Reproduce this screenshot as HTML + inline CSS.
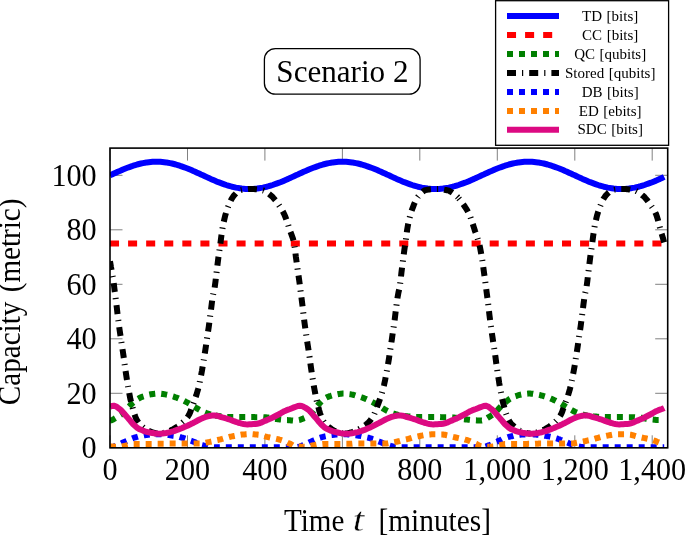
<!DOCTYPE html>
<html><head><meta charset="utf-8"><title>Scenario 2</title>
<style>
html,body{margin:0;padding:0;background:#fff;}
body{width:685px;height:536px;overflow:hidden;font-family:"Liberation Serif",serif;}
svg{display:block;font-family:"Liberation Serif",serif;will-change:transform;}
</style></head><body>
<svg width="685" height="536" viewBox="0 0 685 536">
<rect width="685" height="536" fill="#fff"/>
<g stroke="#737373" stroke-width="0.9" fill="none"><line x1="110.0" y1="447.8" x2="110.0" y2="435.3"/><line x1="110.0" y1="148.1" x2="110.0" y2="160.6"/><line x1="187.5" y1="447.8" x2="187.5" y2="435.3"/><line x1="187.5" y1="148.1" x2="187.5" y2="160.6"/><line x1="264.9" y1="447.8" x2="264.9" y2="435.3"/><line x1="264.9" y1="148.1" x2="264.9" y2="160.6"/><line x1="342.4" y1="447.8" x2="342.4" y2="435.3"/><line x1="342.4" y1="148.1" x2="342.4" y2="160.6"/><line x1="419.8" y1="447.8" x2="419.8" y2="435.3"/><line x1="419.8" y1="148.1" x2="419.8" y2="160.6"/><line x1="497.3" y1="447.8" x2="497.3" y2="435.3"/><line x1="497.3" y1="148.1" x2="497.3" y2="160.6"/><line x1="574.8" y1="447.8" x2="574.8" y2="435.3"/><line x1="574.8" y1="148.1" x2="574.8" y2="160.6"/><line x1="652.2" y1="447.8" x2="652.2" y2="435.3"/><line x1="652.2" y1="148.1" x2="652.2" y2="160.6"/><line x1="110.0" y1="447.8" x2="122.5" y2="447.8"/><line x1="667.7" y1="447.8" x2="655.2" y2="447.8"/><line x1="110.0" y1="393.3" x2="122.5" y2="393.3"/><line x1="667.7" y1="393.3" x2="655.2" y2="393.3"/><line x1="110.0" y1="338.8" x2="122.5" y2="338.8"/><line x1="667.7" y1="338.8" x2="655.2" y2="338.8"/><line x1="110.0" y1="284.3" x2="122.5" y2="284.3"/><line x1="667.7" y1="284.3" x2="655.2" y2="284.3"/><line x1="110.0" y1="229.8" x2="122.5" y2="229.8"/><line x1="667.7" y1="229.8" x2="655.2" y2="229.8"/><line x1="110.0" y1="175.3" x2="122.5" y2="175.3"/><line x1="667.7" y1="175.3" x2="655.2" y2="175.3"/></g>
<clipPath id="c"><rect x="110.0" y="148.1" width="557.7" height="299.7"/></clipPath>
<g clip-path="url(#c)" fill="none" stroke-width="6" stroke-linejoin="round"><path d="M110.0 175.3 L111.9 174.5 L113.9 173.6 L115.8 172.7 L117.7 171.8 L119.7 171.0 L121.6 170.1 L123.6 169.3 L125.5 168.5 L127.4 167.8 L129.4 167.1 L131.3 166.4 L133.2 165.7 L135.2 165.1 L137.1 164.5 L139.0 164.0 L141.0 163.5 L142.9 163.1 L144.9 162.8 L146.8 162.4 L148.7 162.2 L150.7 162.0 L152.6 161.8 L154.5 161.8 L156.5 161.7 L158.4 161.8 L160.3 161.8 L162.3 162.0 L164.2 162.2 L166.2 162.4 L168.1 162.8 L170.0 163.1 L172.0 163.5 L173.9 164.0 L175.8 164.5 L177.8 165.1 L179.7 165.7 L181.6 166.4 L183.6 167.1 L185.5 167.8 L187.5 168.5 L189.4 169.3 L191.3 170.1 L193.3 171.0 L195.2 171.8 L197.1 172.7 L199.1 173.6 L201.0 174.5 L202.9 175.3 L204.9 176.2 L206.8 177.1 L208.8 178.0 L210.7 178.9 L212.6 179.7 L214.6 180.6 L216.5 181.4 L218.4 182.2 L220.4 182.9 L222.3 183.6 L224.3 184.3 L226.2 185.0 L228.1 185.6 L230.1 186.2 L232.0 186.7 L233.9 187.1 L235.9 187.6 L237.8 187.9 L239.7 188.2 L241.7 188.5 L243.6 188.7 L245.6 188.9 L247.5 188.9 L249.4 189.0 L251.4 188.9 L253.3 188.9 L255.2 188.7 L257.2 188.5 L259.1 188.2 L261.0 187.9 L263.0 187.6 L264.9 187.1 L266.9 186.7 L268.8 186.2 L270.7 185.6 L272.7 185.0 L274.6 184.3 L276.5 183.6 L278.5 182.9 L280.4 182.2 L282.3 181.4 L284.3 180.6 L286.2 179.7 L288.2 178.9 L290.1 178.0 L292.0 177.1 L294.0 176.2 L295.9 175.3 L297.8 174.5 L299.8 173.6 L301.7 172.7 L303.6 171.8 L305.6 171.0 L307.5 170.1 L309.5 169.3 L311.4 168.5 L313.3 167.8 L315.3 167.1 L317.2 166.4 L319.1 165.7 L321.1 165.1 L323.0 164.5 L324.9 164.0 L326.9 163.5 L328.8 163.1 L330.8 162.8 L332.7 162.4 L334.6 162.2 L336.6 162.0 L338.5 161.8 L340.4 161.8 L342.4 161.7 L344.3 161.8 L346.2 161.8 L348.2 162.0 L350.1 162.2 L352.1 162.4 L354.0 162.8 L355.9 163.1 L357.9 163.5 L359.8 164.0 L361.7 164.5 L363.7 165.1 L365.6 165.7 L367.5 166.4 L369.5 167.1 L371.4 167.8 L373.4 168.5 L375.3 169.3 L377.2 170.1 L379.2 171.0 L381.1 171.8 L383.0 172.7 L385.0 173.6 L386.9 174.5 L388.9 175.3 L390.8 176.2 L392.7 177.1 L394.7 178.0 L396.6 178.9 L398.5 179.7 L400.5 180.6 L402.4 181.4 L404.3 182.2 L406.3 182.9 L408.2 183.6 L410.2 184.3 L412.1 185.0 L414.0 185.6 L416.0 186.2 L417.9 186.7 L419.8 187.1 L421.8 187.6 L423.7 187.9 L425.6 188.2 L427.6 188.5 L429.5 188.7 L431.5 188.9 L433.4 188.9 L435.3 189.0 L437.3 188.9 L439.2 188.9 L441.1 188.7 L443.1 188.5 L445.0 188.2 L446.9 187.9 L448.9 187.6 L450.8 187.1 L452.8 186.7 L454.7 186.2 L456.6 185.6 L458.6 185.0 L460.5 184.3 L462.4 183.6 L464.4 182.9 L466.3 182.2 L468.2 181.4 L470.2 180.6 L472.1 179.7 L474.1 178.9 L476.0 178.0 L477.9 177.1 L479.9 176.2 L481.8 175.3 L483.7 174.5 L485.7 173.6 L487.6 172.7 L489.5 171.8 L491.5 171.0 L493.4 170.1 L495.4 169.3 L497.3 168.5 L499.2 167.8 L501.2 167.1 L503.1 166.4 L505.0 165.7 L507.0 165.1 L508.9 164.5 L510.8 164.0 L512.8 163.5 L514.7 163.1 L516.7 162.8 L518.6 162.4 L520.5 162.2 L522.5 162.0 L524.4 161.8 L526.3 161.8 L528.3 161.7 L530.2 161.8 L532.1 161.8 L534.1 162.0 L536.0 162.2 L538.0 162.4 L539.9 162.8 L541.8 163.1 L543.8 163.5 L545.7 164.0 L547.6 164.5 L549.6 165.1 L551.5 165.7 L553.4 166.4 L555.4 167.1 L557.3 167.8 L559.3 168.5 L561.2 169.3 L563.1 170.1 L565.1 171.0 L567.0 171.8 L568.9 172.7 L570.9 173.6 L572.8 174.5 L574.8 175.3 L576.7 176.2 L578.6 177.1 L580.6 178.0 L582.5 178.9 L584.4 179.7 L586.4 180.6 L588.3 181.4 L590.2 182.2 L592.2 182.9 L594.1 183.6 L596.1 184.3 L598.0 185.0 L599.9 185.6 L601.9 186.2 L603.8 186.7 L605.7 187.1 L607.7 187.6 L609.6 187.9 L611.5 188.2 L613.5 188.5 L615.4 188.7 L617.4 188.9 L619.3 188.9 L621.2 189.0 L623.2 188.9 L625.1 188.9 L627.0 188.7 L629.0 188.5 L630.9 188.2 L632.8 187.9 L634.8 187.6 L636.7 187.1 L638.7 186.7 L640.6 186.2 L642.5 185.6 L644.5 185.0 L646.4 184.3 L648.3 183.6 L650.3 182.9 L652.2 182.2 L654.1 181.4 L656.1 180.6 L658.0 179.7 L660.0 178.9 L661.9 178.0 L663.8 177.1 L664.2 176.9" stroke="#0000ff"/><path d="M110.0 243.5 L111.9 243.5 L113.9 243.5 L115.8 243.5 L117.7 243.5 L119.7 243.5 L121.6 243.5 L123.6 243.5 L125.5 243.5 L127.4 243.5 L129.4 243.5 L131.3 243.5 L133.2 243.5 L135.2 243.5 L137.1 243.5 L139.0 243.5 L141.0 243.5 L142.9 243.5 L144.9 243.5 L146.8 243.5 L148.7 243.5 L150.7 243.5 L152.6 243.5 L154.5 243.5 L156.5 243.5 L158.4 243.5 L160.3 243.5 L162.3 243.5 L164.2 243.5 L166.2 243.5 L168.1 243.5 L170.0 243.5 L172.0 243.5 L173.9 243.5 L175.8 243.5 L177.8 243.5 L179.7 243.5 L181.6 243.5 L183.6 243.5 L185.5 243.5 L187.5 243.5 L189.4 243.5 L191.3 243.5 L193.3 243.5 L195.2 243.5 L197.1 243.5 L199.1 243.5 L201.0 243.5 L202.9 243.5 L204.9 243.5 L206.8 243.5 L208.8 243.5 L210.7 243.5 L212.6 243.5 L214.6 243.5 L216.5 243.5 L218.4 243.5 L220.4 243.5 L222.3 243.5 L224.3 243.5 L226.2 243.5 L228.1 243.5 L230.1 243.5 L232.0 243.5 L233.9 243.5 L235.9 243.5 L237.8 243.5 L239.7 243.5 L241.7 243.5 L243.6 243.5 L245.6 243.5 L247.5 243.5 L249.4 243.5 L251.4 243.5 L253.3 243.5 L255.2 243.5 L257.2 243.5 L259.1 243.5 L261.0 243.5 L263.0 243.5 L264.9 243.5 L266.9 243.5 L268.8 243.5 L270.7 243.5 L272.7 243.5 L274.6 243.5 L276.5 243.5 L278.5 243.5 L280.4 243.5 L282.3 243.5 L284.3 243.5 L286.2 243.5 L288.2 243.5 L290.1 243.5 L292.0 243.5 L294.0 243.5 L295.9 243.5 L297.8 243.5 L299.8 243.5 L301.7 243.5 L303.6 243.5 L305.6 243.5 L307.5 243.5 L309.5 243.5 L311.4 243.5 L313.3 243.5 L315.3 243.5 L317.2 243.5 L319.1 243.5 L321.1 243.5 L323.0 243.5 L324.9 243.5 L326.9 243.5 L328.8 243.5 L330.8 243.5 L332.7 243.5 L334.6 243.5 L336.6 243.5 L338.5 243.5 L340.4 243.5 L342.4 243.5 L344.3 243.5 L346.2 243.5 L348.2 243.5 L350.1 243.5 L352.1 243.5 L354.0 243.5 L355.9 243.5 L357.9 243.5 L359.8 243.5 L361.7 243.5 L363.7 243.5 L365.6 243.5 L367.5 243.5 L369.5 243.5 L371.4 243.5 L373.4 243.5 L375.3 243.5 L377.2 243.5 L379.2 243.5 L381.1 243.5 L383.0 243.5 L385.0 243.5 L386.9 243.5 L388.9 243.5 L390.8 243.5 L392.7 243.5 L394.7 243.5 L396.6 243.5 L398.5 243.5 L400.5 243.5 L402.4 243.5 L404.3 243.5 L406.3 243.5 L408.2 243.5 L410.2 243.5 L412.1 243.5 L414.0 243.5 L416.0 243.5 L417.9 243.5 L419.8 243.5 L421.8 243.5 L423.7 243.5 L425.6 243.5 L427.6 243.5 L429.5 243.5 L431.5 243.5 L433.4 243.5 L435.3 243.5 L437.3 243.5 L439.2 243.5 L441.1 243.5 L443.1 243.5 L445.0 243.5 L446.9 243.5 L448.9 243.5 L450.8 243.5 L452.8 243.5 L454.7 243.5 L456.6 243.5 L458.6 243.5 L460.5 243.5 L462.4 243.5 L464.4 243.5 L466.3 243.5 L468.2 243.5 L470.2 243.5 L472.1 243.5 L474.1 243.5 L476.0 243.5 L477.9 243.5 L479.9 243.5 L481.8 243.5 L483.7 243.5 L485.7 243.5 L487.6 243.5 L489.5 243.5 L491.5 243.5 L493.4 243.5 L495.4 243.5 L497.3 243.5 L499.2 243.5 L501.2 243.5 L503.1 243.5 L505.0 243.5 L507.0 243.5 L508.9 243.5 L510.8 243.5 L512.8 243.5 L514.7 243.5 L516.7 243.5 L518.6 243.5 L520.5 243.5 L522.5 243.5 L524.4 243.5 L526.3 243.5 L528.3 243.5 L530.2 243.5 L532.1 243.5 L534.1 243.5 L536.0 243.5 L538.0 243.5 L539.9 243.5 L541.8 243.5 L543.8 243.5 L545.7 243.5 L547.6 243.5 L549.6 243.5 L551.5 243.5 L553.4 243.5 L555.4 243.5 L557.3 243.5 L559.3 243.5 L561.2 243.5 L563.1 243.5 L565.1 243.5 L567.0 243.5 L568.9 243.5 L570.9 243.5 L572.8 243.5 L574.8 243.5 L576.7 243.5 L578.6 243.5 L580.6 243.5 L582.5 243.5 L584.4 243.5 L586.4 243.5 L588.3 243.5 L590.2 243.5 L592.2 243.5 L594.1 243.5 L596.1 243.5 L598.0 243.5 L599.9 243.5 L601.9 243.5 L603.8 243.5 L605.7 243.5 L607.7 243.5 L609.6 243.5 L611.5 243.5 L613.5 243.5 L615.4 243.5 L617.4 243.5 L619.3 243.5 L621.2 243.5 L623.2 243.5 L625.1 243.5 L627.0 243.5 L629.0 243.5 L630.9 243.5 L632.8 243.5 L634.8 243.5 L636.7 243.5 L638.7 243.5 L640.6 243.5 L642.5 243.5 L644.5 243.5 L646.4 243.5 L648.3 243.5 L650.3 243.5 L652.2 243.5 L654.1 243.5 L656.1 243.5 L658.0 243.5 L660.0 243.5 L661.9 243.5 L663.8 243.5 L664.2 243.5" stroke="#ff0000" stroke-dasharray="9.04 9.04"/><path d="M110.0 420.6 L111.0 420.4 L111.9 420.1 L112.9 419.6 L113.9 419.0 L114.8 418.4 L115.8 417.8 L116.8 417.3 L117.7 416.7 L118.7 416.1 L119.7 415.4 L120.7 414.8 L121.6 414.0 L122.6 413.2 L123.6 412.3 L124.5 411.3 L125.5 410.3 L126.5 409.2 L127.4 408.1 L128.4 407.1 L129.4 406.1 L130.3 405.2 L131.3 404.3 L132.3 403.5 L133.2 402.6 L134.2 401.8 L135.2 401.0 L136.1 400.2 L137.1 399.5 L138.1 398.8 L139.0 398.3 L140.0 397.8 L141.0 397.3 L142.0 396.9 L142.9 396.5 L143.9 396.2 L144.9 395.8 L145.8 395.5 L146.8 395.2 L147.8 394.9 L148.7 394.7 L149.7 394.5 L150.7 394.3 L151.6 394.2 L152.6 394.0 L153.6 393.9 L154.5 393.8 L155.5 393.7 L156.5 393.6 L157.4 393.6 L158.4 393.6 L159.4 393.7 L160.3 393.7 L161.3 393.8 L162.3 394.0 L163.3 394.1 L164.2 394.2 L165.2 394.4 L166.2 394.6 L167.1 394.8 L168.1 395.0 L169.1 395.3 L170.0 395.6 L171.0 395.8 L172.0 396.1 L172.9 396.4 L173.9 396.7 L174.9 397.1 L175.8 397.4 L176.8 397.7 L177.8 398.1 L178.7 398.5 L179.7 398.9 L180.7 399.3 L181.6 399.7 L182.6 400.2 L183.6 400.6 L184.6 401.1 L185.5 401.6 L186.5 402.1 L187.5 402.6 L188.4 403.1 L189.4 403.7 L190.4 404.3 L191.3 404.9 L192.3 405.6 L193.3 406.2 L194.2 406.8 L195.2 407.4 L196.2 407.9 L197.1 408.5 L198.1 409.0 L199.1 409.6 L200.0 410.1 L201.0 410.7 L202.0 411.2 L202.9 411.7 L203.9 412.1 L204.9 412.5 L205.9 412.9 L206.8 413.2 L207.8 413.5 L208.8 413.8 L209.7 414.1 L210.7 414.4 L211.7 414.7 L212.6 414.9 L213.6 415.1 L214.6 415.3" stroke="#007f00" stroke-dasharray="6 6" stroke-dashoffset="0.0"/><path d="M214.6 415.3 L215.5 415.5 L216.5 415.7 L217.5 415.8 L218.4 415.9 L219.4 416.1 L220.4 416.2 L221.3 416.3 L222.3 416.4 L223.3 416.5 L224.3 416.6 L225.2 416.7 L226.2 416.8 L227.2 416.9 L228.1 416.9 L229.1 417.0 L230.1 417.0 L231.0 417.0 L232.0 417.1 L233.0 417.1 L233.9 417.1 L234.9 417.1 L235.9 417.1 L236.8 417.1 L237.8 417.1 L238.8 417.1 L239.7 417.1 L240.7 417.1 L241.7 417.1 L242.6 417.1 L243.6 417.1 L244.6 417.1 L245.6 417.1 L246.5 417.1 L247.5 417.1 L248.5 417.1 L249.4 417.1 L250.4 417.1 L251.4 417.1 L252.3 417.1 L253.3 417.1 L254.3 417.1 L255.2 417.2 L256.2 417.2 L257.2 417.2 L258.1 417.2 L259.1 417.2 L260.1 417.2 L261.0 417.2 L262.0 417.2 L263.0 417.2 L263.9 417.3 L264.9 417.3 L265.9 417.3 L266.9 417.4 L267.8 417.5 L268.8 417.7 L269.8 417.8 L270.7 418.0 L271.7 418.2 L272.7 418.4 L273.6 418.6 L274.6 418.8 L275.6 418.9 L276.5 419.1 L277.5 419.2 L278.5 419.3 L279.4 419.4 L280.4 419.5 L281.4 419.6 L282.3 419.7 L283.3 419.8 L284.3 419.9 L285.2 420.0 L286.2 420.1 L287.2 420.1 L288.2 420.2 L289.1 420.3 L290.1 420.3 L291.1 420.4 L292.0 420.4 L293.0 420.5 L294.0 420.5 L294.9 420.5 L295.9 420.6 L296.9 420.5 L297.8 420.4 L298.8 420.1 L299.8 419.9 L300.7 419.5 L301.7 419.2 L302.7 418.8 L303.6 418.3 L304.6 417.9 L305.6 417.5 L306.6 416.9 L307.5 416.4 L308.5 415.7 L309.5 415.0 L310.4 414.2 L311.4 413.3 L312.4 412.2 L313.3 411.0 L314.3 409.7 L315.3 408.4 L316.2 407.1 L317.2 405.9 L318.2 404.8 L319.1 403.8 L320.1 402.8 L321.1 401.7 L322.0 400.8 L323.0 399.9 L324.0 399.0 L324.9 398.3 L325.9 397.8 L326.9 397.3 L327.9 396.9 L328.8 396.5 L329.8 396.1 L330.8 395.8 L331.7 395.5 L332.7 395.2 L333.7 394.9 L334.6 394.7 L335.6 394.5 L336.6 394.3 L337.5 394.2 L338.5 394.0 L339.5 393.9 L340.4 393.8 L341.4 393.7 L342.4 393.6 L343.3 393.6 L344.3 393.6 L345.3 393.7 L346.2 393.7 L347.2 393.8 L348.2 394.0 L349.2 394.1 L350.1 394.2 L351.1 394.4 L352.1 394.6 L353.0 394.8 L354.0 395.0 L355.0 395.3 L355.9 395.6 L356.9 395.8 L357.9 396.1 L358.8 396.4 L359.8 396.7 L360.8 397.1 L361.7 397.4 L362.7 397.7 L363.7 398.1 L364.6 398.5 L365.6 398.9 L366.6 399.3 L367.5 399.7 L368.5 400.2 L369.5 400.6 L370.5 401.1 L371.4 401.6 L372.4 402.1 L373.4 402.6 L374.3 403.1 L375.3 403.7 L376.3 404.3 L377.2 404.9 L378.2 405.6 L379.2 406.2 L380.1 406.8 L381.1 407.4 L382.1 407.9 L383.0 408.5 L384.0 409.0 L385.0 409.6 L385.9 410.1 L386.9 410.7 L387.9 411.2 L388.9 411.7 L389.8 412.1 L390.8 412.5 L391.8 412.9 L392.7 413.2 L393.7 413.5 L394.7 413.8 L395.6 414.1 L396.6 414.4 L397.6 414.7 L398.5 414.9 L399.5 415.1 L400.5 415.3" stroke="#007f00" stroke-dasharray="6 6" stroke-dashoffset="11.23"/><path d="M400.5 415.3 L401.4 415.5 L402.4 415.7 L403.4 415.8 L404.3 415.9 L405.3 416.1 L406.3 416.2 L407.2 416.3 L408.2 416.4 L409.2 416.5 L410.2 416.6 L411.1 416.7 L412.1 416.8 L413.1 416.9 L414.0 416.9 L415.0 417.0 L416.0 417.0 L416.9 417.0 L417.9 417.1 L418.9 417.1 L419.8 417.1 L420.8 417.1 L421.8 417.1 L422.7 417.1 L423.7 417.1 L424.7 417.1 L425.6 417.1 L426.6 417.1 L427.6 417.1 L428.5 417.1 L429.5 417.1 L430.5 417.1 L431.5 417.1 L432.4 417.1 L433.4 417.1 L434.4 417.1 L435.3 417.1 L436.3 417.1 L437.3 417.1 L438.2 417.1 L439.2 417.1 L440.2 417.1 L441.1 417.2 L442.1 417.2 L443.1 417.2 L444.0 417.2 L445.0 417.2 L446.0 417.2 L446.9 417.2 L447.9 417.2 L448.9 417.2 L449.8 417.3 L450.8 417.3 L451.8 417.3 L452.8 417.4 L453.7 417.5 L454.7 417.7 L455.7 417.8 L456.6 418.0 L457.6 418.2 L458.6 418.4 L459.5 418.6 L460.5 418.8 L461.5 418.9 L462.4 419.1 L463.4 419.2 L464.4 419.3 L465.3 419.4 L466.3 419.5 L467.3 419.6 L468.2 419.7 L469.2 419.8 L470.2 419.9 L471.1 420.0 L472.1 420.1 L473.1 420.1 L474.1 420.2 L475.0 420.3 L476.0 420.3 L477.0 420.4 L477.9 420.4 L478.9 420.5 L479.9 420.5 L480.8 420.5 L481.8 420.6 L482.8 420.4 L483.7 420.1 L484.7 419.6 L485.7 419.0 L486.6 418.4 L487.6 417.8 L488.6 417.3 L489.5 416.7 L490.5 416.1 L491.5 415.4 L492.5 414.8 L493.4 414.0 L494.4 413.2 L495.4 412.3 L496.3 411.3 L497.3 410.3 L498.3 409.2 L499.2 408.1 L500.2 407.1 L501.2 406.1 L502.1 405.2 L503.1 404.3 L504.1 403.5 L505.0 402.6 L506.0 401.8 L507.0 401.0 L507.9 400.2 L508.9 399.5 L509.9 398.8 L510.8 398.3 L511.8 397.8 L512.8 397.3 L513.8 396.9 L514.7 396.5 L515.7 396.2 L516.7 395.8 L517.6 395.5 L518.6 395.2 L519.6 394.9 L520.5 394.7 L521.5 394.5 L522.5 394.3 L523.4 394.2 L524.4 394.0 L525.4 393.9 L526.3 393.8 L527.3 393.7 L528.3 393.6 L529.2 393.6 L530.2 393.6 L531.2 393.7 L532.1 393.7 L533.1 393.8 L534.1 394.0 L535.1 394.1 L536.0 394.2 L537.0 394.4 L538.0 394.6 L538.9 394.8 L539.9 395.0 L540.9 395.3 L541.8 395.6 L542.8 395.8 L543.8 396.1 L544.7 396.4 L545.7 396.7 L546.7 397.1 L547.6 397.4 L548.6 397.7 L549.6 398.1 L550.5 398.5 L551.5 398.9 L552.5 399.3 L553.4 399.7 L554.4 400.2 L555.4 400.6 L556.4 401.1 L557.3 401.6 L558.3 402.1 L559.3 402.6 L560.2 403.1 L561.2 403.7 L562.2 404.3 L563.1 404.9 L564.1 405.6 L565.1 406.2 L566.0 406.8 L567.0 407.4 L568.0 407.9 L568.9 408.5 L569.9 409.0 L570.9 409.6 L571.8 410.1 L572.8 410.7 L573.8 411.2 L574.8 411.7 L575.7 412.1 L576.7 412.5 L577.7 412.9 L578.6 413.2 L579.6 413.5 L580.6 413.8 L581.5 414.1 L582.5 414.4 L583.5 414.7 L584.4 414.9 L585.4 415.1 L586.4 415.3" stroke="#007f00" stroke-dasharray="6 6" stroke-dashoffset="8.21"/><path d="M586.4 415.3 L587.3 415.5 L588.3 415.7 L589.3 415.8 L590.2 415.9 L591.2 416.1 L592.2 416.2 L593.1 416.3 L594.1 416.4 L595.1 416.5 L596.1 416.6 L597.0 416.7 L598.0 416.8 L599.0 416.9 L599.9 416.9 L600.9 417.0 L601.9 417.0 L602.8 417.0 L603.8 417.1 L604.8 417.1 L605.7 417.1 L606.7 417.1 L607.7 417.1 L608.6 417.1 L609.6 417.1 L610.6 417.1 L611.5 417.1 L612.5 417.1 L613.5 417.1 L614.4 417.1 L615.4 417.1 L616.4 417.1 L617.4 417.1 L618.3 417.1 L619.3 417.1 L620.3 417.1 L621.2 417.1 L622.2 417.1 L623.2 417.1 L624.1 417.1 L625.1 417.1 L626.1 417.1 L627.0 417.2 L628.0 417.2 L629.0 417.2 L629.9 417.2 L630.9 417.2 L631.9 417.2 L632.8 417.2 L633.8 417.2 L634.8 417.2 L635.7 417.3 L636.7 417.3 L637.7 417.3 L638.7 417.4 L639.6 417.5 L640.6 417.7 L641.6 417.8 L642.5 418.0 L643.5 418.2 L644.5 418.4 L645.4 418.6 L646.4 418.8 L647.4 418.9 L648.3 419.1 L649.3 419.2 L650.3 419.3 L651.2 419.4 L652.2 419.5 L653.2 419.6 L654.1 419.7 L655.1 419.8 L656.1 419.9 L657.0 420.0 L658.0 420.1 L659.0 420.1 L660.0 420.2 L660.9 420.3 L661.9 420.3 L662.9 420.4 L663.8 420.4 L664.2 420.5" stroke="#007f00" stroke-dasharray="6 6" stroke-dashoffset="5.39"/><path d="M110.0 261.2 L111.0 267.3 L111.9 272.0 L112.9 277.5 L113.9 284.4 L114.8 291.9 L115.8 299.5 L116.8 307.5 L117.7 315.5 L118.7 323.3 L119.7 330.7 L120.7 337.3 L121.6 343.6 L122.6 349.9 L123.6 356.5 L124.5 363.5 L125.5 370.5 L126.5 377.0 L127.4 382.9 L128.4 388.6 L129.4 393.9 L130.3 398.7 L131.3 402.8 L132.3 406.6 L133.2 410.1 L134.2 413.4 L135.2 416.3 L136.1 418.7 L137.1 420.6 L138.1 422.0 L139.0 423.3 L140.0 424.4 L141.0 425.3 L142.0 426.2 L142.9 427.0 L143.9 427.8 L144.9 428.5 L145.8 429.3 L146.8 429.9 L147.8 430.5 L148.7 430.9 L149.7 431.3 L150.7 431.7 L151.6 432.0 L152.6 432.4 L153.6 432.7 L154.5 433.0 L155.5 433.2 L156.5 433.4 L157.4 433.6 L158.4 433.6 L158.8 433.6" stroke="#000000" stroke-dasharray="9 6 1.2 6" stroke-dashoffset="0.0"/><path d="M158.8 433.6 L159.4 433.6 L160.3 433.5 L161.3 433.4 L162.3 433.2 L163.3 433.0 L164.2 432.7 L165.2 432.4 L166.2 432.1 L167.1 431.8 L168.1 431.5 L169.1 431.1 L170.0 430.7 L171.0 430.3 L172.0 429.8 L172.9 429.3 L173.9 428.7 L174.9 428.2 L175.8 427.6 L176.8 427.0 L177.8 426.4 L178.7 425.7 L179.7 424.9 L180.7 424.2 L181.6 423.4 L182.6 422.5 L183.6 421.7 L184.6 420.7 L185.5 419.7 L186.5 418.5 L187.5 417.3 L188.4 415.8 L189.4 414.0 L190.4 411.7 L191.3 409.1 L192.3 406.4 L193.3 403.8 L194.2 401.2 L195.2 398.5 L196.2 395.6 L197.1 392.5 L198.1 389.1 L199.1 385.2 L200.0 380.7 L201.0 375.8 L202.0 370.5 L202.9 365.0 L203.9 359.1 L204.9 352.7 L205.9 346.3 L206.8 339.8 L207.8 333.3 L208.8 326.6 L209.7 319.7 L210.7 312.0 L211.7 304.2 L212.6 297.2 L213.6 292.3 L214.6 288.1 L215.5 281.3 L216.5 272.9 L217.5 264.7 L218.4 257.4 L219.4 250.3 L220.4 243.5 L221.3 236.4 L222.3 229.5 L223.3 223.8 L224.3 219.5 L225.2 215.6 L226.2 212.3 L227.2 209.4 L228.1 206.8 L229.1 204.4 L230.1 202.1 L231.0 200.1 L232.0 198.3 L233.0 196.8 L233.9 195.6 L234.9 194.5 L235.9 193.5 L236.8 192.5 L237.8 191.7 L238.8 191.0 L239.7 190.4 L240.7 190.1 L241.7 189.9 L242.6 189.7 L243.6 189.6 L244.6 189.4 L245.6 189.3 L246.5 189.2 L247.5 189.1 L248.5 189.0 L249.4 189.0 L250.4 189.0 L251.4 189.0 L252.3 189.0 L253.3 189.0 L254.3 189.1 L255.2 189.2 L256.2 189.3 L257.2 189.4 L258.1 189.5 L259.1 189.7 L260.1 189.9 L261.0 190.0 L262.0 190.2 L263.0 190.4 L263.9 190.7 L264.9 191.2 L265.9 191.7 L266.9 192.3 L267.8 193.0 L268.8 193.8 L269.8 194.6 L270.7 195.4 L271.7 196.2 L272.7 197.1 L273.6 198.2 L274.6 199.3 L275.6 200.5 L276.5 201.8 L277.5 203.1 L278.5 204.5 L279.4 205.9 L280.4 207.4 L281.4 208.9 L282.3 210.5 L283.3 212.3 L284.3 214.3 L285.2 216.5 L286.2 219.1 L287.2 222.0 L288.2 225.0 L289.1 228.1 L290.1 231.0 L291.1 233.5 L292.0 236.0 L293.0 238.8 L294.0 242.5 L294.9 248.4 L295.9 257.1 L296.9 264.1 L297.8 270.7 L298.8 277.5 L299.8 284.7 L300.7 292.0 L301.7 299.5 L302.7 307.5 L303.6 315.5 L304.6 323.3 L305.6 330.7 L306.6 337.3 L307.5 343.6 L308.5 349.9 L309.5 356.5 L310.4 363.5 L311.4 370.5 L312.4 377.0 L313.3 382.9 L314.3 388.6 L315.3 393.9 L316.2 398.7 L317.2 402.8 L318.2 406.6 L319.1 410.1 L320.1 413.4 L321.1 416.3 L322.0 418.7 L323.0 420.6 L324.0 422.0 L324.9 423.3 L325.9 424.4 L326.9 425.3 L327.9 426.2 L328.8 427.0 L329.8 427.8 L330.8 428.5 L331.7 429.3 L332.7 429.9 L333.7 430.5 L334.6 430.9 L335.6 431.3 L336.6 431.7 L337.5 432.0 L338.5 432.4 L339.5 432.7 L340.4 433.0 L341.4 433.2 L342.4 433.4 L343.3 433.6 L344.3 433.6 L344.7 433.6" stroke="#000000" stroke-dasharray="9 6 1.2 6" stroke-dashoffset="10.65"/><path d="M344.7 433.6 L345.3 433.6 L346.2 433.5 L347.2 433.4 L348.2 433.2 L349.2 433.0 L350.1 432.7 L351.1 432.4 L352.1 432.1 L353.0 431.8 L354.0 431.5 L355.0 431.1 L355.9 430.7 L356.9 430.3 L357.9 429.8 L358.8 429.3 L359.8 428.7 L360.8 428.2 L361.7 427.6 L362.7 427.0 L363.7 426.4 L364.6 425.7 L365.6 425.0 L366.6 424.2 L367.5 423.3 L368.5 422.4 L369.5 421.3 L370.5 420.1 L371.4 418.8 L372.4 417.4 L373.4 415.8 L374.3 414.0 L375.3 411.6 L376.3 409.0 L377.2 406.4 L378.2 403.8 L379.2 401.2 L380.1 398.5 L381.1 395.6 L382.1 392.5 L383.0 389.1 L384.0 385.2 L385.0 380.7 L385.9 375.8 L386.9 370.5 L387.9 365.0 L388.9 359.1 L389.8 352.7 L390.8 346.3 L391.8 339.8 L392.7 333.3 L393.7 326.6 L394.7 319.7 L395.6 312.0 L396.6 304.2 L397.6 297.2 L398.5 292.3 L399.5 288.1 L400.5 281.3 L401.4 272.9 L402.4 264.7 L403.4 257.4 L404.3 250.3 L405.3 243.5 L406.3 236.4 L407.2 229.5 L408.2 223.8 L409.2 219.5 L410.2 215.6 L411.1 212.3 L412.1 209.4 L413.1 206.8 L414.0 204.4 L415.0 202.1 L416.0 200.1 L416.9 198.3 L417.9 196.8 L418.9 195.6 L419.8 194.5 L420.8 193.5 L421.8 192.5 L422.7 191.7 L423.7 191.0 L424.7 190.4 L425.6 190.1 L426.6 189.9 L427.6 189.7 L428.5 189.6 L429.5 189.4 L430.5 189.3 L431.5 189.2 L432.4 189.1 L433.4 189.0 L434.4 189.0 L435.3 189.0 L436.3 189.0 L437.3 189.0 L438.2 189.0 L439.2 189.1 L440.2 189.2 L441.1 189.3 L442.1 189.4 L443.1 189.5 L444.0 189.7 L445.0 189.9 L446.0 190.0 L446.9 190.2 L447.9 190.4 L448.9 190.7 L449.8 191.2 L450.8 191.7 L451.8 192.3 L452.8 193.0 L453.7 193.8 L454.7 194.6 L455.7 195.4 L456.6 196.2 L457.6 197.1 L458.6 198.2" stroke="#000000" stroke-dasharray="9 6 1.2 6" stroke-dashoffset="0.03"/><path d="M458.6 198.2 L459.5 199.3 L460.5 200.5 L461.5 201.8 L462.4 203.1 L463.4 204.5 L464.4 205.9 L465.3 207.4 L466.3 208.9 L467.3 210.5 L468.2 212.3 L469.2 214.3 L470.2 216.5 L471.1 219.1 L472.1 222.0 L473.1 225.0 L474.1 228.1 L475.0 231.0 L476.0 233.7 L477.0 236.5 L477.9 239.5 L478.9 242.8 L479.9 246.8 L480.8 251.6 L481.8 257.1 L482.8 263.4 L483.7 270.4 L484.7 277.5 L485.7 284.7 L486.6 292.0 L487.6 299.5 L488.6 307.5 L489.5 315.5 L490.5 323.3 L491.5 330.7 L492.5 337.3 L493.4 343.6 L494.4 349.9 L495.4 356.5 L496.3 363.5 L497.3 370.5 L498.3 377.0 L499.2 382.9 L500.2 388.6 L501.2 393.9 L502.1 398.7 L503.1 402.8 L504.1 406.6 L505.0 410.1 L506.0 413.4 L507.0 416.3 L507.9 418.7 L508.9 420.6 L509.9 422.0 L510.8 423.3 L511.8 424.4 L512.8 425.3 L513.8 426.2 L514.7 427.0 L515.7 427.8 L516.7 428.5 L517.6 429.3 L518.6 429.9 L519.6 430.5 L520.5 430.9 L521.5 431.3 L522.5 431.7 L523.4 432.0 L524.4 432.4 L525.4 432.7 L526.3 433.0 L527.3 433.2 L528.3 433.4 L529.2 433.6 L530.2 433.6 L530.6 433.6" stroke="#000000" stroke-dasharray="9 6 1.2 6" stroke-dashoffset="14.65"/><path d="M530.6 433.6 L531.2 433.6 L532.1 433.5 L533.1 433.4 L534.1 433.2 L535.1 433.0 L536.0 432.7 L537.0 432.4 L538.0 432.1 L538.9 431.8 L539.9 431.5 L540.9 431.1 L541.8 430.7 L542.8 430.3 L543.8 429.8 L544.7 429.3 L545.7 428.7 L546.7 428.2 L547.6 427.6 L548.6 427.0 L549.6 426.4 L550.5 425.7 L551.5 424.9 L552.5 424.2 L553.4 423.4 L554.4 422.5 L555.4 421.7 L556.4 420.7 L557.3 419.7 L558.3 418.5 L559.3 417.3 L560.2 415.8 L561.2 414.0 L562.2 411.7 L563.1 409.1 L564.1 406.4 L565.1 403.8 L566.0 401.2 L567.0 398.5 L568.0 395.6 L568.9 392.5 L569.9 389.1 L570.9 385.2 L571.8 380.7 L572.8 375.8 L573.8 370.5 L574.8 365.0 L575.7 359.1 L576.7 352.7 L577.7 346.3 L578.6 339.8 L579.6 333.3 L580.6 326.6 L581.5 319.7 L582.5 312.0 L583.5 304.2 L584.4 297.2 L585.4 292.3 L586.4 288.1 L587.3 281.3 L588.3 272.9 L589.3 264.7 L590.2 257.4 L591.2 250.3 L592.2 243.5 L593.1 236.4 L594.1 229.5 L595.1 223.8 L596.1 219.5 L597.0 215.6 L598.0 212.3 L599.0 209.4 L599.9 206.8 L600.9 204.4 L601.9 202.1 L602.8 200.1 L603.8 198.3 L604.8 196.8 L605.7 195.6 L606.7 194.5 L607.7 193.5 L608.6 192.5 L609.6 191.7 L610.6 191.0 L611.5 190.4 L612.5 190.1 L613.5 189.9 L614.4 189.7 L615.4 189.6 L616.4 189.4 L617.4 189.3 L618.3 189.2 L619.3 189.1 L620.3 189.0 L621.2 189.0 L622.2 189.0 L623.2 189.0 L624.1 189.0 L625.1 189.0 L626.1 189.1 L627.0 189.2 L628.0 189.3 L629.0 189.4 L629.9 189.5 L630.9 189.7 L631.9 189.9 L632.8 190.0 L633.8 190.2 L634.8 190.4 L635.7 190.7 L636.7 191.2 L637.7 191.7 L638.7 192.3 L639.6 193.0 L640.6 193.8 L641.6 194.6 L642.5 195.4 L643.5 196.2 L644.5 197.1 L645.4 198.2 L646.4 199.3 L647.4 200.5 L648.3 201.8 L649.3 203.1 L650.3 204.5 L651.2 205.9 L652.2 207.3 L653.2 208.7 L654.1 210.4 L655.1 212.2 L656.1 214.2 L657.0 216.8 L658.0 220.2 L659.0 224.2 L660.0 228.0 L660.9 231.4 L661.9 234.6 L662.9 237.9 L663.8 241.2 L664.2 242.6" stroke="#000000" stroke-dasharray="9 6 1.2 6" stroke-dashoffset="9.12"/><path d="M110.0 447.3 L111.0 447.2 L111.9 447.0 L112.9 446.8 L113.9 446.5 L114.8 446.2 L115.8 445.8 L116.8 445.4 L117.7 445.1 L118.7 444.7 L119.7 444.3 L120.7 443.8 L121.6 443.3 L122.6 442.8 L123.6 442.3 L124.5 441.9 L125.5 441.5 L126.5 441.0 L127.4 440.6 L128.4 440.1 L129.4 439.7 L130.3 439.2 L131.3 438.8 L132.3 438.4 L133.2 438.0 L134.2 437.7 L135.2 437.4 L136.1 437.1 L137.1 436.9 L138.1 436.6 L139.0 436.4 L140.0 436.2 L141.0 436.0 L142.0 435.7 L142.9 435.6 L143.9 435.4 L144.9 435.2 L145.8 435.1 L146.8 434.9 L147.8 434.8 L148.7 434.7 L149.7 434.6 L150.7 434.5 L151.6 434.5 L152.6 434.4 L153.6 434.3 L154.5 434.3 L155.5 434.2 L156.5 434.2" stroke="#0000ff" stroke-dasharray="6 6" stroke-dashoffset="0.0"/><path d="M156.5 434.2 L157.4 434.2 L158.4 434.2 L159.4 434.2 L160.3 434.3 L161.3 434.3 L162.3 434.4 L163.3 434.5 L164.2 434.6 L165.2 434.7 L166.2 434.8 L167.1 434.9 L168.1 435.0 L169.1 435.1 L170.0 435.2 L171.0 435.4 L172.0 435.5 L172.9 435.7 L173.9 435.8 L174.9 436.0 L175.8 436.2 L176.8 436.4 L177.8 436.6 L178.7 436.8 L179.7 437.1 L180.7 437.3 L181.6 437.5 L182.6 437.8 L183.6 438.0 L184.6 438.3 L185.5 438.6 L186.5 439.0 L187.5 439.3 L188.4 439.7 L189.4 440.1 L190.4 440.5 L191.3 440.8 L192.3 441.2 L193.3 441.6 L194.2 441.9 L195.2 442.4 L196.2 442.8 L197.1 443.2 L198.1 443.6 L199.1 444.0 L200.0 444.4 L201.0 444.7 L202.0 445.1 L202.9 445.3 L203.9 445.6 L204.9 445.9 L205.9 446.1 L206.8 446.4 L207.8 446.6 L208.8 446.8 L209.7 446.9 L210.7 447.0 L211.7 447.0 L212.6 447.1 L213.6 447.1 L214.6 447.2 L215.5 447.2 L216.5 447.2 L217.5 447.2 L218.4 447.3 L219.4 447.3 L220.4 447.3 L221.3 447.3 L222.3 447.3 L223.3 447.3 L224.3 447.3 L225.2 447.3 L226.2 447.3 L227.2 447.3 L228.1 447.3 L229.1 447.3 L230.1 447.3 L231.0 447.3 L232.0 447.3 L233.0 447.3 L233.9 447.3 L234.9 447.3 L235.9 447.3 L236.8 447.3 L237.8 447.3 L238.8 447.3 L239.7 447.3 L240.7 447.3 L241.7 447.3 L242.6 447.3 L243.6 447.3 L244.6 447.3 L245.6 447.3 L246.5 447.3 L247.5 447.3 L248.5 447.3 L249.4 447.3 L250.4 447.3 L251.4 447.3 L252.3 447.3 L253.3 447.3 L254.3 447.3 L255.2 447.3 L256.2 447.3 L257.2 447.3 L258.1 447.3 L259.1 447.3 L260.1 447.3 L261.0 447.3 L262.0 447.3 L263.0 447.3 L263.9 447.3 L264.9 447.3 L265.9 447.3 L266.9 447.3 L267.8 447.3 L268.8 447.3 L269.8 447.3 L270.7 447.3 L271.7 447.3 L272.7 447.3 L273.6 447.3 L274.6 447.3 L275.6 447.3 L276.5 447.3 L277.5 447.3 L278.5 447.3 L279.4 447.3 L280.4 447.3 L281.4 447.3 L282.3 447.3 L283.3 447.3 L284.3 447.3 L285.2 447.3 L286.2 447.3 L287.2 447.3 L288.2 447.3 L289.1 447.3 L290.1 447.3 L291.1 447.3 L292.0 447.3 L293.0 447.3 L294.0 447.3 L294.9 447.3 L295.9 447.3 L296.9 447.2 L297.8 447.0 L298.8 446.8 L299.8 446.5 L300.7 446.2 L301.7 445.8 L302.7 445.4 L303.6 445.1 L304.6 444.7 L305.6 444.3 L306.6 443.8 L307.5 443.3 L308.5 442.8 L309.5 442.3 L310.4 441.9 L311.4 441.5 L312.4 441.0 L313.3 440.6 L314.3 440.1 L315.3 439.7 L316.2 439.2 L317.2 438.8 L318.2 438.4 L319.1 438.0 L320.1 437.7 L321.1 437.4 L322.0 437.1 L323.0 436.9 L324.0 436.6 L324.9 436.4 L325.9 436.2 L326.9 436.0 L327.9 435.7 L328.8 435.6 L329.8 435.4 L330.8 435.2 L331.7 435.1 L332.7 434.9 L333.7 434.8 L334.6 434.7 L335.6 434.6 L336.6 434.5 L337.5 434.5 L338.5 434.4 L339.5 434.3 L340.4 434.3 L341.4 434.2 L342.4 434.2" stroke="#0000ff" stroke-dasharray="6 6" stroke-dashoffset="0.75"/><path d="M342.4 434.2 L343.3 434.2 L344.3 434.2 L345.3 434.2 L346.2 434.3 L347.2 434.3 L348.2 434.4 L349.2 434.5 L350.1 434.6 L351.1 434.7 L352.1 434.8 L353.0 434.9 L354.0 435.0 L355.0 435.1 L355.9 435.2 L356.9 435.4 L357.9 435.5 L358.8 435.7 L359.8 435.8 L360.8 436.0 L361.7 436.2 L362.7 436.4 L363.7 436.6 L364.6 436.8 L365.6 437.1 L366.6 437.3 L367.5 437.5 L368.5 437.8 L369.5 438.0 L370.5 438.3 L371.4 438.6 L372.4 439.0 L373.4 439.3 L374.3 439.7 L375.3 440.1 L376.3 440.5 L377.2 440.8 L378.2 441.2 L379.2 441.6 L380.1 441.9 L381.1 442.4 L382.1 442.8 L383.0 443.2 L384.0 443.6 L385.0 444.0 L385.9 444.4 L386.9 444.7 L387.9 445.1 L388.9 445.3 L389.8 445.6 L390.8 445.9 L391.8 446.1 L392.7 446.4 L393.7 446.6 L394.7 446.8 L395.6 446.9 L396.6 447.0 L397.6 447.0 L398.5 447.1 L399.5 447.1 L400.5 447.2 L401.4 447.2 L402.4 447.2 L403.4 447.2 L404.3 447.3 L405.3 447.3 L406.3 447.3 L407.2 447.3 L408.2 447.3 L409.2 447.3 L410.2 447.3 L411.1 447.3 L412.1 447.3 L413.1 447.3 L414.0 447.3 L415.0 447.3 L416.0 447.3 L416.9 447.3 L417.9 447.3 L418.9 447.3 L419.8 447.3 L420.8 447.3 L421.8 447.3 L422.7 447.3 L423.7 447.3 L424.7 447.3 L425.6 447.3 L426.6 447.3 L427.6 447.3 L428.5 447.3 L429.5 447.3 L430.5 447.3 L431.5 447.3 L432.4 447.3 L433.4 447.3 L434.4 447.3 L435.3 447.3 L436.3 447.3 L437.3 447.3 L438.2 447.3 L439.2 447.3 L440.2 447.3 L441.1 447.3 L442.1 447.3 L443.1 447.3 L444.0 447.3 L445.0 447.3 L446.0 447.3 L446.9 447.3 L447.9 447.3 L448.9 447.3 L449.8 447.3 L450.8 447.3 L451.8 447.3 L452.8 447.3 L453.7 447.3 L454.7 447.3 L455.7 447.3 L456.6 447.3 L457.6 447.3 L458.6 447.3 L459.5 447.3 L460.5 447.3 L461.5 447.3 L462.4 447.3 L463.4 447.3 L464.4 447.3 L465.3 447.3 L466.3 447.3 L467.3 447.3 L468.2 447.3 L469.2 447.3 L470.2 447.3 L471.1 447.3 L472.1 447.3 L473.1 447.3 L474.1 447.3 L475.0 447.3 L476.0 447.3 L477.0 447.3 L477.9 447.3 L478.9 447.3 L479.9 447.3 L480.8 447.3 L481.8 447.3 L482.8 447.2 L483.7 447.0 L484.7 446.8 L485.7 446.5 L486.6 446.2 L487.6 445.8 L488.6 445.4 L489.5 445.1 L490.5 444.7 L491.5 444.3 L492.5 443.8 L493.4 443.3 L494.4 442.8 L495.4 442.3 L496.3 441.9 L497.3 441.5 L498.3 441.0 L499.2 440.6 L500.2 440.1 L501.2 439.7 L502.1 439.2 L503.1 438.8 L504.1 438.4 L505.0 438.0 L506.0 437.7 L507.0 437.4 L507.9 437.1 L508.9 436.9 L509.9 436.6 L510.8 436.4 L511.8 436.2 L512.8 436.0 L513.8 435.7 L514.7 435.6 L515.7 435.4 L516.7 435.2 L517.6 435.1 L518.6 434.9 L519.6 434.8 L520.5 434.7 L521.5 434.6 L522.5 434.5 L523.4 434.5 L524.4 434.4 L525.4 434.3 L526.3 434.3 L527.3 434.2 L528.3 434.2" stroke="#0000ff" stroke-dasharray="6 6" stroke-dashoffset="10.82"/><path d="M528.3 434.2 L529.2 434.2 L530.2 434.2 L531.2 434.2 L532.1 434.3 L533.1 434.3 L534.1 434.4 L535.1 434.5 L536.0 434.6 L537.0 434.7 L538.0 434.8 L538.9 434.9 L539.9 435.0 L540.9 435.1 L541.8 435.2 L542.8 435.4 L543.8 435.5 L544.7 435.7 L545.7 435.8 L546.7 436.0 L547.6 436.2 L548.6 436.4 L549.6 436.6 L550.5 436.8 L551.5 437.1 L552.5 437.3 L553.4 437.5 L554.4 437.8 L555.4 438.0 L556.4 438.3 L557.3 438.6 L558.3 439.0 L559.3 439.3 L560.2 439.7 L561.2 440.1 L562.2 440.5 L563.1 440.8 L564.1 441.2 L565.1 441.6 L566.0 441.9 L567.0 442.4 L568.0 442.8 L568.9 443.2 L569.9 443.6 L570.9 444.0 L571.8 444.4 L572.8 444.7 L573.8 445.1 L574.8 445.3 L575.7 445.6 L576.7 445.9 L577.7 446.1 L578.6 446.4 L579.6 446.6 L580.6 446.8 L581.5 446.9 L582.5 447.0 L583.5 447.0 L584.4 447.1 L585.4 447.1 L586.4 447.2 L587.3 447.2 L588.3 447.2 L589.3 447.2 L590.2 447.3 L591.2 447.3 L592.2 447.3 L593.1 447.3 L594.1 447.3 L595.1 447.3 L596.1 447.3 L597.0 447.3 L598.0 447.3 L599.0 447.3 L599.9 447.3 L600.9 447.3 L601.9 447.3 L602.8 447.3 L603.8 447.3 L604.8 447.3 L605.7 447.3 L606.7 447.3 L607.7 447.3 L608.6 447.3 L609.6 447.3 L610.6 447.3 L611.5 447.3 L612.5 447.3 L613.5 447.3 L614.4 447.3 L615.4 447.3 L616.4 447.3 L617.4 447.3 L618.3 447.3 L619.3 447.3 L620.3 447.3 L621.2 447.3 L622.2 447.3 L623.2 447.3 L624.1 447.3 L625.1 447.3 L626.1 447.3 L627.0 447.3 L628.0 447.3 L629.0 447.3 L629.9 447.3 L630.9 447.3 L631.9 447.3 L632.8 447.3 L633.8 447.3 L634.8 447.3 L635.7 447.3 L636.7 447.3 L637.7 447.3 L638.7 447.3 L639.6 447.3 L640.6 447.3 L641.6 447.3 L642.5 447.3 L643.5 447.3 L644.5 447.3 L645.4 447.3 L646.4 447.3 L647.4 447.3 L648.3 447.3 L649.3 447.3 L650.3 447.3 L651.2 447.3 L652.2 447.3 L653.2 447.3 L654.1 447.3 L655.1 447.3 L656.1 447.3 L657.0 447.3 L658.0 447.3 L659.0 447.3 L660.0 447.3 L660.9 447.3 L661.9 447.3 L662.9 447.3 L663.8 447.3 L664.2 447.3" stroke="#0000ff" stroke-dasharray="6 6" stroke-dashoffset="7.68"/><path d="M110.0 446.4 L111.0 446.5 L111.9 446.5 L112.9 446.6 L113.9 446.6 L114.8 446.7 L115.8 446.7 L116.8 446.7 L117.7 446.7" stroke="#ff8000" stroke-dasharray="6 6" stroke-dashoffset="0.0"/><path d="M117.7 446.7 L118.7 446.7 L119.7 446.7 L120.7 446.6 L121.6 446.5 L122.6 446.3 L123.6 446.1 L124.5 445.9 L125.5 445.7 L126.5 445.5 L127.4 445.3 L128.4 445.1 L129.4 444.9 L130.3 444.6 L131.3 444.4 L132.3 444.2 L133.2 444.0 L134.2 444.0 L135.2 444.0 L136.1 444.0 L137.1 443.9 L138.1 443.9 L139.0 443.9 L140.0 443.9 L141.0 443.9 L142.0 443.9 L142.9 443.9 L143.9 443.9 L144.9 443.9 L145.8 443.9 L146.8 443.9 L147.8 443.9 L148.7 443.9 L149.7 443.9 L150.7 443.9 L151.6 443.9 L152.6 443.9 L153.6 443.9 L154.5 443.9 L155.5 443.9 L156.5 443.8 L157.4 443.8 L158.4 443.8 L159.4 443.8 L160.3 443.8 L161.3 443.8 L162.3 443.8 L163.3 443.7 L164.2 443.7 L165.2 443.7 L166.2 443.7 L167.1 443.6 L168.1 443.6 L169.1 443.6 L170.0 443.6 L171.0 443.6 L172.0 443.5 L172.9 443.5 L173.9 443.5 L174.9 443.5 L175.8 443.5 L176.8 443.5 L177.8 443.4 L178.7 443.4 L179.7 443.4 L180.7 443.4 L181.6 443.4 L182.6 443.4 L183.6 443.4 L184.6 443.4 L185.5 443.4 L186.5 443.4 L187.5 443.4 L188.4 443.4 L189.4 443.4 L190.4 443.4 L191.3 443.4 L192.3 443.4 L193.3 443.4 L194.2 443.4 L195.2 443.4 L196.2 443.4 L197.1 443.4 L198.1 443.4 L199.1 443.4 L200.0 443.4 L201.0 443.4 L202.0 443.3 L202.9 443.1 L203.9 443.0 L204.9 442.8 L205.9 442.6 L206.8 442.4 L207.8 442.3 L208.8 442.1 L209.7 441.9 L210.7 441.7 L211.7 441.5 L212.6 441.3 L213.6 441.1 L214.6 440.8 L215.5 440.6 L216.5 440.3 L217.5 440.1 L218.4 439.8 L219.4 439.6 L220.4 439.4 L221.3 439.1 L222.3 438.9 L223.3 438.6 L224.3 438.3 L225.2 438.1 L226.2 437.8 L227.2 437.5 L228.1 437.3 L229.1 437.0 L230.1 436.8 L231.0 436.6 L232.0 436.4 L233.0 436.2 L233.9 436.0 L234.9 435.8 L235.9 435.6 L236.8 435.4 L237.8 435.2 L238.8 435.0 L239.7 434.9 L240.7 434.7 L241.7 434.6 L242.6 434.5 L243.6 434.4 L244.6 434.4 L245.6 434.3 L246.5 434.3 L247.5 434.2 L248.5 434.2 L249.4 434.2 L250.4 434.2 L251.4 434.2 L252.3 434.2 L253.3 434.3 L254.3 434.3 L255.2 434.4 L256.2 434.4 L257.2 434.5 L258.1 434.7 L259.1 434.8 L260.1 435.0 L261.0 435.3 L262.0 435.5 L263.0 435.8 L263.9 436.1 L264.9 436.4 L265.9 436.6 L266.9 436.9 L267.8 437.1 L268.8 437.3 L269.8 437.5 L270.7 437.7 L271.7 437.9 L272.7 438.1 L273.6 438.3 L274.6 438.5 L275.6 438.7 L276.5 438.9 L277.5 439.1 L278.5 439.3 L279.4 439.6 L280.4 439.9 L281.4 440.2 L282.3 440.5 L283.3 440.9 L284.3 441.3 L285.2 441.7 L286.2 442.1 L287.2 442.5 L288.2 443.0 L289.1 443.4 L290.1 443.8 L291.1 444.3 L292.0 444.8 L293.0 445.4 L294.0 445.9 L294.9 446.3 L295.9 446.4 L296.9 446.5 L297.8 446.5 L298.8 446.6 L299.8 446.6 L300.7 446.7 L301.7 446.7 L302.7 446.7 L303.6 446.7" stroke="#ff8000" stroke-dasharray="6 6" stroke-dashoffset="7.75"/><path d="M303.6 446.7 L304.6 446.7 L305.6 446.7 L306.6 446.6 L307.5 446.5 L308.5 446.3 L309.5 446.1 L310.4 445.9 L311.4 445.7 L312.4 445.5 L313.3 445.3 L314.3 445.1 L315.3 444.9 L316.2 444.6 L317.2 444.4 L318.2 444.2 L319.1 444.0 L320.1 444.0 L321.1 444.0 L322.0 444.0 L323.0 443.9 L324.0 443.9 L324.9 443.9 L325.9 443.9 L326.9 443.9 L327.9 443.9 L328.8 443.9 L329.8 443.9 L330.8 443.9 L331.7 443.9 L332.7 443.9 L333.7 443.9 L334.6 443.9 L335.6 443.9 L336.6 443.9 L337.5 443.9 L338.5 443.9 L339.5 443.9 L340.4 443.9 L341.4 443.9 L342.4 443.8 L343.3 443.8 L344.3 443.8 L345.3 443.8 L346.2 443.8 L347.2 443.8 L348.2 443.8 L349.2 443.7 L350.1 443.7 L351.1 443.7 L352.1 443.7 L353.0 443.6 L354.0 443.6 L355.0 443.6 L355.9 443.6 L356.9 443.6 L357.9 443.5 L358.8 443.5 L359.8 443.5 L360.8 443.5 L361.7 443.5 L362.7 443.5 L363.7 443.4 L364.6 443.4 L365.6 443.4 L366.6 443.4 L367.5 443.4 L368.5 443.4 L369.5 443.4 L370.5 443.4 L371.4 443.4 L372.4 443.4 L373.4 443.4 L374.3 443.4 L375.3 443.4 L376.3 443.4 L377.2 443.4 L378.2 443.4 L379.2 443.4 L380.1 443.4 L381.1 443.4 L382.1 443.4 L383.0 443.4 L384.0 443.4 L385.0 443.4 L385.9 443.4 L386.9 443.4 L387.9 443.3 L388.9 443.1 L389.8 443.0 L390.8 442.8 L391.8 442.6 L392.7 442.4 L393.7 442.3 L394.7 442.1 L395.6 441.9 L396.6 441.7 L397.6 441.5 L398.5 441.3 L399.5 441.1 L400.5 440.8 L401.4 440.6 L402.4 440.3 L403.4 440.1 L404.3 439.8 L405.3 439.6 L406.3 439.4 L407.2 439.1 L408.2 438.9 L409.2 438.6 L410.2 438.3 L411.1 438.1 L412.1 437.8 L413.1 437.5 L414.0 437.3 L415.0 437.0 L416.0 436.8 L416.9 436.6 L417.9 436.4 L418.9 436.2 L419.8 436.0 L420.8 435.8 L421.8 435.6 L422.7 435.4 L423.7 435.2 L424.7 435.0 L425.6 434.9 L426.6 434.7 L427.6 434.6 L428.5 434.5 L429.5 434.4 L430.5 434.4 L431.5 434.3 L432.4 434.3 L433.4 434.2 L434.4 434.2 L435.3 434.2 L436.3 434.2 L437.3 434.2 L438.2 434.2 L439.2 434.3 L440.2 434.3 L441.1 434.4 L442.1 434.4 L443.1 434.5 L444.0 434.7 L445.0 434.8 L446.0 435.0 L446.9 435.3 L447.9 435.5 L448.9 435.8 L449.8 436.1 L450.8 436.4 L451.8 436.6 L452.8 436.9 L453.7 437.1 L454.7 437.3 L455.7 437.5 L456.6 437.7 L457.6 437.9 L458.6 438.1 L459.5 438.3 L460.5 438.5 L461.5 438.7 L462.4 438.9 L463.4 439.1 L464.4 439.3 L465.3 439.6 L466.3 439.9 L467.3 440.2 L468.2 440.5 L469.2 440.9 L470.2 441.3 L471.1 441.7 L472.1 442.1 L473.1 442.5 L474.1 443.0 L475.0 443.4 L476.0 443.8 L477.0 444.3 L477.9 444.8 L478.9 445.4 L479.9 445.9 L480.8 446.3 L481.8 446.4 L482.8 446.5 L483.7 446.5 L484.7 446.6 L485.7 446.6 L486.6 446.7 L487.6 446.7 L488.6 446.7 L489.5 446.7" stroke="#ff8000" stroke-dasharray="6 6" stroke-dashoffset="4.94"/><path d="M489.5 446.7 L490.5 446.7 L491.5 446.7 L492.5 446.6 L493.4 446.5 L494.4 446.3 L495.4 446.1 L496.3 445.9 L497.3 445.7 L498.3 445.5 L499.2 445.3 L500.2 445.1 L501.2 444.9 L502.1 444.6 L503.1 444.4 L504.1 444.2 L505.0 444.0 L506.0 444.0 L507.0 444.0 L507.9 444.0 L508.9 443.9 L509.9 443.9 L510.8 443.9 L511.8 443.9 L512.8 443.9 L513.8 443.9 L514.7 443.9 L515.7 443.9 L516.7 443.9 L517.6 443.9 L518.6 443.9 L519.6 443.9 L520.5 443.9 L521.5 443.9 L522.5 443.9 L523.4 443.9 L524.4 443.9 L525.4 443.9 L526.3 443.9 L527.3 443.9 L528.3 443.8 L529.2 443.8 L530.2 443.8 L531.2 443.8 L532.1 443.8 L533.1 443.8 L534.1 443.8 L535.1 443.7 L536.0 443.7 L537.0 443.7 L538.0 443.7 L538.9 443.6 L539.9 443.6 L540.9 443.6 L541.8 443.6 L542.8 443.6 L543.8 443.5 L544.7 443.5 L545.7 443.5 L546.7 443.5 L547.6 443.5 L548.6 443.5 L549.6 443.4 L550.5 443.4 L551.5 443.4 L552.5 443.4 L553.4 443.4 L554.4 443.4 L555.4 443.4 L556.4 443.4 L557.3 443.4 L558.3 443.4 L559.3 443.4 L560.2 443.4 L561.2 443.4 L562.2 443.4 L563.1 443.4 L564.1 443.4 L565.1 443.4 L566.0 443.4 L567.0 443.4 L568.0 443.4 L568.9 443.4 L569.9 443.4 L570.9 443.4 L571.8 443.4 L572.8 443.4 L573.8 443.3 L574.8 443.1 L575.7 443.0 L576.7 442.8 L577.7 442.6 L578.6 442.4 L579.6 442.3 L580.6 442.1 L581.5 441.9 L582.5 441.7 L583.5 441.5 L584.4 441.3 L585.4 441.1 L586.4 440.8 L587.3 440.6 L588.3 440.3 L589.3 440.1 L590.2 439.8 L591.2 439.6 L592.2 439.4 L593.1 439.1 L594.1 438.9 L595.1 438.6 L596.1 438.3 L597.0 438.1 L598.0 437.8 L599.0 437.5 L599.9 437.3 L600.9 437.0 L601.9 436.8 L602.8 436.6 L603.8 436.4 L604.8 436.2 L605.7 436.0 L606.7 435.8 L607.7 435.6 L608.6 435.4 L609.6 435.2 L610.6 435.0 L611.5 434.9 L612.5 434.7 L613.5 434.6 L614.4 434.5 L615.4 434.4 L616.4 434.4 L617.4 434.3 L618.3 434.3 L619.3 434.2 L620.3 434.2 L621.2 434.2 L622.2 434.2 L623.2 434.2 L624.1 434.2 L625.1 434.3 L626.1 434.3 L627.0 434.4 L628.0 434.4 L629.0 434.5 L629.9 434.7 L630.9 434.8 L631.9 435.0 L632.8 435.3 L633.8 435.5 L634.8 435.8 L635.7 436.1 L636.7 436.4 L637.7 436.6 L638.7 436.9 L639.6 437.1 L640.6 437.3 L641.6 437.5 L642.5 437.7 L643.5 437.9 L644.5 438.1 L645.4 438.3 L646.4 438.5 L647.4 438.7 L648.3 438.9 L649.3 439.1 L650.3 439.3 L651.2 439.6 L652.2 439.9 L653.2 440.2 L654.1 440.5 L655.1 440.9 L656.1 441.3 L657.0 441.7 L658.0 442.1 L659.0 442.5 L660.0 443.0 L660.9 443.4 L661.9 443.8 L662.9 444.3 L663.8 444.8 L664.2 445.0" stroke="#ff8000" stroke-dasharray="6 6" stroke-dashoffset="2.12"/><path d="M110.0 406.7 L111.9 406.0 L113.9 405.7 L115.8 406.3 L117.7 407.6 L119.7 409.1 L121.6 410.8 L123.6 413.0 L125.5 415.2 L127.4 417.4 L129.4 419.7 L131.3 422.0 L133.2 424.2 L135.2 426.0 L137.1 427.7 L139.0 428.9 L141.0 429.8 L142.9 430.6 L144.9 431.3 L146.8 431.8 L148.7 432.3 L150.7 432.7 L152.6 433.0 L154.5 433.4 L156.5 433.6 L158.4 433.8 L160.3 433.7 L162.3 433.6 L164.2 433.3 L166.2 433.0 L168.1 432.6 L170.0 432.2 L172.0 431.7 L173.9 431.1 L175.8 430.4 L177.8 429.7 L179.7 428.9 L181.6 428.2 L183.6 427.4 L185.5 426.5 L187.5 425.7 L189.4 424.8 L191.3 423.8 L193.3 422.9 L195.2 421.9 L197.1 420.8 L199.1 419.8 L201.0 418.9 L202.9 418.0 L204.9 417.2 L206.8 416.6 L208.8 416.1 L210.7 415.7 L212.6 415.4 L214.6 415.4 L216.5 415.7 L218.4 416.2 L220.4 416.8 L222.3 417.4 L224.3 417.9 L226.2 418.5 L228.1 419.1 L230.1 419.7 L232.0 420.4 L233.9 421.2 L235.9 421.9 L237.8 422.5 L239.7 423.0 L241.7 423.6 L243.6 424.0 L245.6 424.3 L247.5 424.4 L249.4 424.3 L251.4 424.2 L253.3 424.1 L255.2 424.0 L257.2 423.7 L259.1 423.3 L261.0 422.7 L263.0 421.8 L264.9 420.9 L266.9 420.1 L268.8 419.2 L270.7 418.4 L272.7 417.5 L274.6 416.5 L276.5 415.5 L278.5 414.5 L280.4 413.5 L282.3 412.3 L284.3 411.2 L286.2 410.4 L288.2 409.7 L290.1 409.0 L292.0 408.2 L294.0 407.4 L295.9 406.7 L297.8 406.0 L299.8 405.7 L301.7 406.0 L303.6 406.8 L305.6 407.9 L307.5 409.1 L309.5 410.7 L311.4 412.9 L313.3 415.2 L315.3 417.4 L317.2 419.7 L319.1 422.0 L321.1 424.2 L323.0 426.0 L324.9 427.7 L326.9 428.9 L328.8 429.8 L330.8 430.6 L332.7 431.3 L334.6 431.8 L336.6 432.3 L338.5 432.7 L340.4 433.1 L342.4 433.4 L344.3 433.7 L346.2 433.8 L348.2 433.7 L350.1 433.5 L352.1 433.2 L354.0 432.9 L355.9 432.5 L357.9 432.1 L359.8 431.5 L361.7 430.9 L363.7 430.2 L365.6 429.4 L367.5 428.6 L369.5 427.8 L371.4 426.9 L373.4 425.9 L375.3 424.9 L377.2 423.9 L379.2 422.9 L381.1 421.8 L383.0 420.8 L385.0 419.8 L386.9 418.9 L388.9 418.0 L390.8 417.2 L392.7 416.6 L394.7 416.1 L396.6 415.7 L398.5 415.4 L400.5 415.4 L402.4 415.7 L404.3 416.2 L406.3 416.8 L408.2 417.4 L410.2 417.9 L412.1 418.5 L414.0 419.1 L416.0 419.7 L417.9 420.4 L419.8 421.2 L421.8 421.9 L423.7 422.5 L425.6 423.0 L427.6 423.6 L429.5 424.0 L431.5 424.3 L433.4 424.4 L435.3 424.3 L437.3 424.2 L439.2 424.1 L441.1 424.0 L443.1 423.7 L445.0 423.3 L446.9 422.7 L448.9 421.8 L450.8 420.9 L452.8 420.1 L454.7 419.2 L456.6 418.4 L458.6 417.5 L460.5 416.5 L462.4 415.5 L464.4 414.5 L466.3 413.5 L468.2 412.3 L470.2 411.2 L472.1 410.4 L474.1 409.7 L476.0 409.0 L477.9 408.2 L479.9 407.4 L481.8 406.7 L483.7 406.0 L485.7 405.7 L487.6 406.3 L489.5 407.6 L491.5 409.1 L493.4 410.8 L495.4 413.0 L497.3 415.2 L499.2 417.4 L501.2 419.7 L503.1 422.0 L505.0 424.2 L507.0 426.0 L508.9 427.7 L510.8 428.9 L512.8 429.8 L514.7 430.6 L516.7 431.3 L518.6 431.8 L520.5 432.3 L522.5 432.7 L524.4 433.0 L526.3 433.4 L528.3 433.6 L530.2 433.8 L532.1 433.7 L534.1 433.6 L536.0 433.3 L538.0 433.0 L539.9 432.6 L541.8 432.2 L543.8 431.7 L545.7 431.1 L547.6 430.4 L549.6 429.7 L551.5 428.9 L553.4 428.2 L555.4 427.4 L557.3 426.5 L559.3 425.7 L561.2 424.8 L563.1 423.8 L565.1 422.9 L567.0 421.9 L568.9 420.8 L570.9 419.8 L572.8 418.9 L574.8 418.0 L576.7 417.2 L578.6 416.6 L580.6 416.1 L582.5 415.7 L584.4 415.4 L586.4 415.4 L588.3 415.7 L590.2 416.2 L592.2 416.8 L594.1 417.4 L596.1 417.9 L598.0 418.5 L599.9 419.1 L601.9 419.7 L603.8 420.4 L605.7 421.2 L607.7 421.9 L609.6 422.5 L611.5 423.0 L613.5 423.6 L615.4 424.0 L617.4 424.3 L619.3 424.4 L621.2 424.3 L623.2 424.2 L625.1 424.1 L627.0 424.0 L629.0 423.7 L630.9 423.3 L632.8 422.7 L634.8 421.8 L636.7 420.9 L638.7 420.1 L640.6 419.2 L642.5 418.4 L644.5 417.5 L646.4 416.5 L648.3 415.5 L650.3 414.5 L652.2 413.5 L654.1 412.3 L656.1 411.2 L658.0 410.4 L660.0 409.7 L661.9 409.0 L663.8 408.2 L664.2 408.0" stroke="#dc0a82"/></g>
<rect x="110.0" y="148.1" width="557.7" height="299.7" fill="none" stroke="#000" stroke-width="1.6"/>
<g font-size="31.8" fill="#000"><text transform="translate(110.0,480.3) scale(0.95,1)" text-anchor="middle">0</text><text transform="translate(187.5,480.3) scale(0.95,1)" text-anchor="middle">200</text><text transform="translate(264.9,480.3) scale(0.95,1)" text-anchor="middle">400</text><text transform="translate(342.4,480.3) scale(0.95,1)" text-anchor="middle">600</text><text transform="translate(419.8,480.3) scale(0.95,1)" text-anchor="middle">800</text><text transform="translate(497.3,480.3) scale(0.95,1)" text-anchor="middle">1,000</text><text transform="translate(574.8,480.3) scale(0.95,1)" text-anchor="middle">1,200</text><text transform="translate(652.2,480.3) scale(0.95,1)" text-anchor="middle">1,400</text><text transform="translate(96.7,458.2) scale(0.95,1)" text-anchor="end">0</text><text transform="translate(96.7,403.7) scale(0.95,1)" text-anchor="end">20</text><text transform="translate(96.7,349.2) scale(0.95,1)" text-anchor="end">40</text><text transform="translate(96.7,294.7) scale(0.95,1)" text-anchor="end">60</text><text transform="translate(96.7,240.2) scale(0.95,1)" text-anchor="end">80</text><text transform="translate(96.7,185.7) scale(0.95,1)" text-anchor="end">100</text></g>
<g font-size="31">
<text x="284" y="530.7" textLength="60.3" lengthAdjust="spacingAndGlyphs">Time</text>
<text transform="translate(352.8,530.7) scale(1.25,1)" font-size="33" font-style="italic" stroke="#fff" stroke-width="0.35">t</text>
<text x="378.5" y="530.7" textLength="112.5" lengthAdjust="spacingAndGlyphs">[minutes]</text>
</g>
<g transform="translate(20.2,405.2) rotate(-90)" font-size="31"><text x="0" y="0" textLength="103.6" lengthAdjust="spacingAndGlyphs">Capacity</text><text x="113" y="0" textLength="93.6" lengthAdjust="spacingAndGlyphs">(metric)</text></g>
<rect x="264.4" y="48.6" width="155.7" height="45.6" rx="11" ry="11" fill="#fff" stroke="#000" stroke-width="1.3"/>
<text x="342.4" y="81.6" font-size="31.1" text-anchor="middle">Scenario 2</text>
<rect x="495.6" y="0.7" width="173" height="144.6" fill="#fff" stroke="#000" stroke-width="1.3"/>
<g fill="none" stroke-width="6"><path d="M507 16.1 H559" stroke="#0000ff"/><path d="M507 35.0 H559" stroke="#ff0000" stroke-dasharray="9.04 9.04"/><path d="M507 54.0 H559" stroke="#007f00" stroke-dasharray="6 6"/><path d="M507 73.0 H559" stroke="#000000" stroke-dasharray="9 6 1.2 6"/><path d="M507 91.9 H559" stroke="#0000ff" stroke-dasharray="6 6"/><path d="M507 110.9 H559" stroke="#ff8000" stroke-dasharray="6 6"/><path d="M507 129.8 H559" stroke="#dc0a82"/></g>
<g font-size="15" fill="#000" word-spacing="0.8"><text x="610.2" y="20.7" text-anchor="middle">TD [bits]</text><text x="610.2" y="39.6" text-anchor="middle">CC [bits]</text><text x="610.2" y="58.6" text-anchor="middle">QC [qubits]</text><text x="610.2" y="77.6" text-anchor="middle">Stored [qubits]</text><text x="610.2" y="96.5" text-anchor="middle">DB [bits]</text><text x="610.2" y="115.5" text-anchor="middle">ED [ebits]</text><text x="610.2" y="134.4" text-anchor="middle">SDC [bits]</text></g>
</svg>
</body></html>
